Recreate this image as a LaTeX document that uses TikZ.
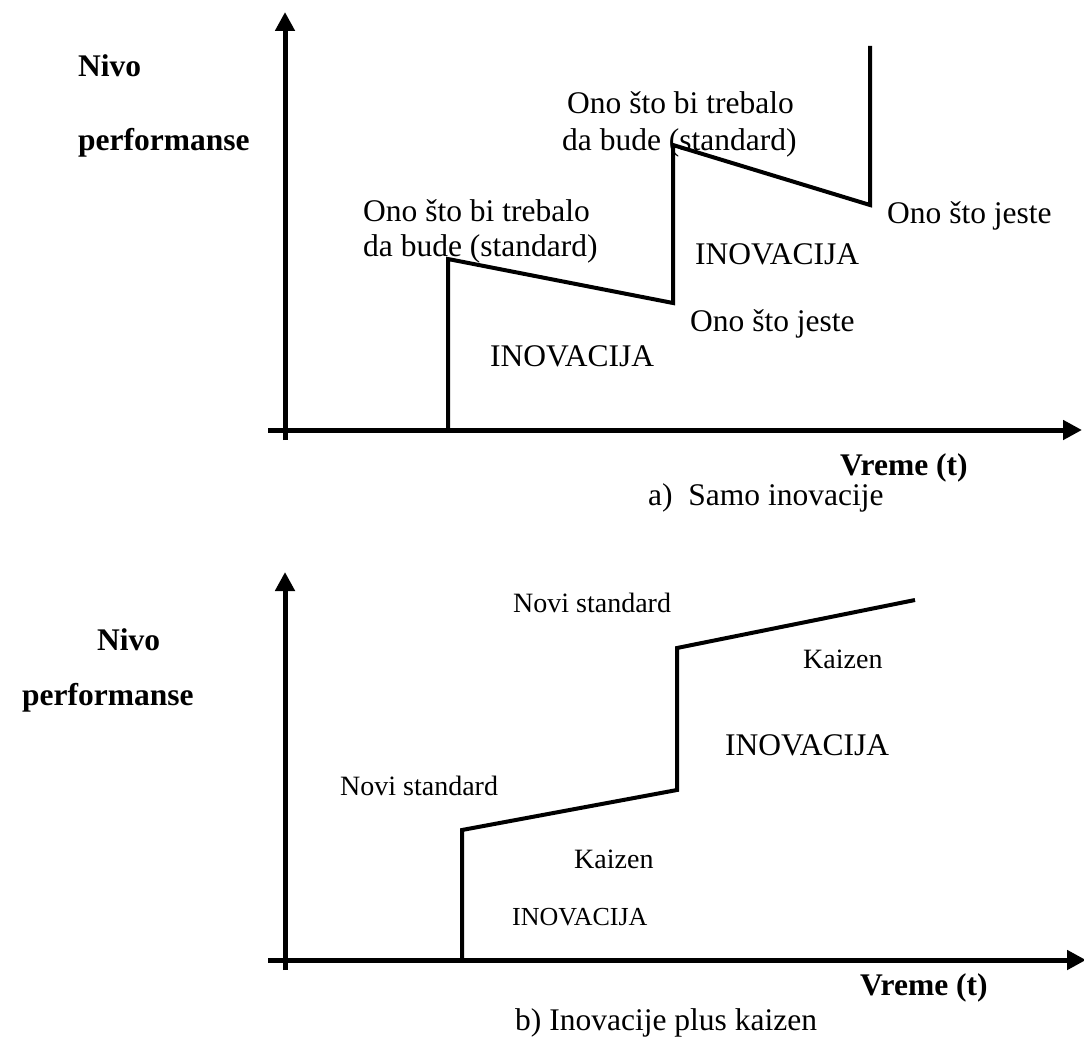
\documentclass[tikz,border=0pt]{standalone}
\usepackage{fontspec}
\setmainfont{Liberation Serif}
\usetikzlibrary{arrows.meta}
\begin{document}
\begin{tikzpicture}[x=1pt,y=-1pt,
  axis/.style={line width=5pt,-{Triangle[length=19pt,width=19pt]}},
  curve/.style={line width=4pt,line join=miter},
  lbl/.style={font=\fontsize{31.5}{35}\selectfont,inner sep=0pt,anchor=base west},
  mlbl/.style={font=\fontsize{28}{32}\selectfont,inner sep=0pt,anchor=base west},
  slbl/.style={font=\fontsize{26}{30}\selectfont,inner sep=0pt,anchor=base west},
  blbl/.style={font=\fontsize{31.5}{35}\selectfont\bfseries,inner sep=0pt,anchor=base west},
]
\useasboundingbox (0,0) rectangle (1084,1041);

% ---------- a) Samo inovacije ----------
\coordinate (ay0) at (285,440);
\coordinate (ay1) at (285,12);
\coordinate (ax0) at (268,430);
\coordinate (ax1) at (1082,430);
\draw[axis] (ay0) -- (ay1);
\draw[axis] (ax0) -- (ax1);

\coordinate (a1) at (448,430);
\coordinate (a2) at (448,259);
\coordinate (a3) at (673,303);
\coordinate (a4) at (673,145);
\coordinate (a5) at (870,205);
\coordinate (a6) at (870,46);
\draw[curve] (a1) -- (a2) -- (a3) -- (a4) -- (a5) -- (a6);

\node[blbl] (anivo) at (78,77) {Nivo};
\node[blbl] (aperf) at (78,150) {performanse};
\node[lbl] (as1a) at (363,221) {Ono što bi trebalo};
\node[lbl] (as1b) at (363,256) {da bude (standard)};
\node[lbl] (as2a) at (567,113) {Ono što bi trebalo};
\node[lbl] (as2b) at (562,150) {da bude (standard)};
\node[lbl] (aj1) at (690,331) {Ono što jeste};
\node[lbl] (aj2) at (887,223) {Ono što jeste};
\node[lbl] (ain1) at (490,366) {INOVACIJA};
\node[lbl] (ain2) at (695,264) {INOVACIJA};
\node[blbl] (avr) at (840,475) {Vreme (t)};
\node[lbl] (acap) at (648,505) {a)\ \ Samo inovacije};

% ---------- b) Inovacije plus kaizen ----------
\coordinate (by0) at (285,970);
\coordinate (by1) at (285,572);
\coordinate (bx0) at (268,960);
\coordinate (bx1) at (1086,960);
\draw[axis] (by0) -- (by1);
\draw[axis] (bx0) -- (bx1);

\coordinate (b1) at (462,960);
\coordinate (b2) at (462,830);
\coordinate (b3) at (677,790);
\coordinate (b4) at (677,648);
\coordinate (b5) at (915,600);
\draw[curve] (b1) -- (b2) -- (b3) -- (b4) -- (b5);

\node[blbl] (bnivo) at (97,650) {Nivo};
\node[blbl] (bperf) at (22,705) {performanse};
\node[mlbl] (bns1) at (513,612) {Novi standard};
\node[mlbl] (bns2) at (340,795) {Novi standard};
\node[mlbl] (bkz1) at (803,668) {Kaizen};
\node[mlbl] (bkz2) at (574,868) {Kaizen};
\node[lbl] (bin1) at (725,755) {INOVACIJA};
\node[slbl] (bin2) at (512,925) {INOVACIJA};
\node[blbl] (bvr) at (860,995) {Vreme (t)};
\node[lbl] (bcap) at (515,1030) {b) Inovacije plus kaizen};
\end{tikzpicture}
\end{document}
